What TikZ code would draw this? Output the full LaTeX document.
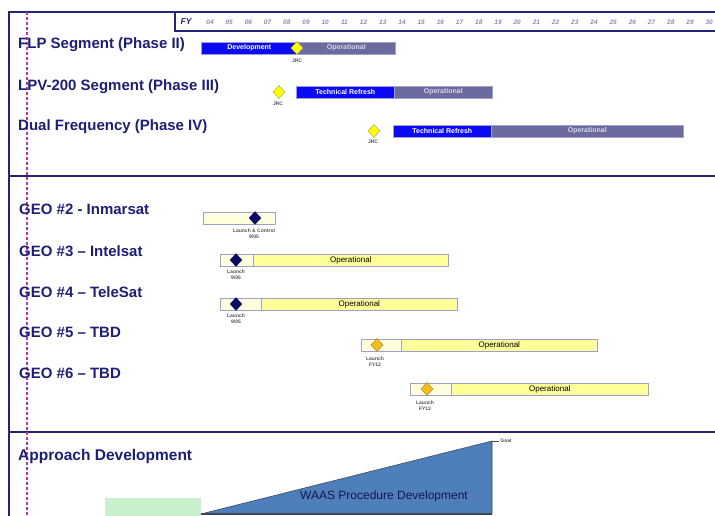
\documentclass[tikz,border=0pt]{standalone}
\usepackage{fontspec}
\setmainfont{Liberation Sans}
\usetikzlibrary{shapes.geometric}
\definecolor{navy}{HTML}{1E1E78}
\definecolor{framec}{HTML}{24247A}
\definecolor{plum}{HTML}{B03AA0}
\definecolor{devblue}{HTML}{0A0AF5}
\definecolor{opgray}{HTML}{6B6BA0}
\definecolor{optext}{HTML}{D6D6E6}
\definecolor{barline}{HTML}{A0A0CC}
\definecolor{paleyel}{HTML}{FFFFDD}
\definecolor{opyel}{HTML}{FFFF99}
\definecolor{jrcyel}{HTML}{FFFF00}
\definecolor{jrcline}{HTML}{B8B840}
\definecolor{geonavy}{HTML}{0A0A66}
\definecolor{geoorange}{HTML}{F7BE20}
\definecolor{geoorline}{HTML}{C08A10}
\definecolor{procblue}{HTML}{4F7FBA}
\definecolor{procline}{HTML}{404858}
\definecolor{procgreen}{HTML}{C8EFCE}
\definecolor{notegray}{HTML}{505050}
\definecolor{yeargray}{HTML}{8A8AB4}
\tikzset{
  framerule/.style={draw=framec, line width=1.8pt},
  rowlabel/.style={anchor=west, inner sep=0pt, text=navy,
    font=\bfseries\fontsize{15}{17}\selectfont},
  yearlabel/.style={inner sep=0pt, text=yeargray,
    font=\bfseries\itshape\fontsize{6.5}{7}\selectfont},
  barbase/.style={rectangle, anchor=west, inner sep=0pt, minimum height=12pt,
    draw=barline, line width=0.6pt},
  devbar/.style={barbase, fill=devblue, text=white,
    font=\bfseries\fontsize{7}{8}\selectfont},
  opbar/.style={barbase, fill=opgray, text=optext,
    font=\bfseries\fontsize{7}{8}\selectfont},
  prebar/.style={barbase, fill=paleyel},
  geobar/.style={barbase, fill=opyel, text=black,
    font=\fontsize{8}{9}\selectfont},
  milestone/.style={diamond, inner sep=0pt, minimum width=12pt, minimum height=13pt},
  jrcmark/.style={milestone, fill=jrcyel, draw=jrcline, line width=0.6pt},
  launchnavy/.style={milestone, fill=geonavy, draw=geonavy},
  launchorange/.style={milestone, fill=geoorange, draw=geoorline, line width=0.6pt},
  note/.style={anchor=north, inner sep=0pt, align=center, text=notegray,
    font=\bfseries\fontsize{5}{6}\selectfont},
}
\begin{document}
\begin{tikzpicture}[x=1pt,y=-1pt]
\useasboundingbox (0,0) rectangle (715,516);

% outer frame, section rules and fiscal-year header box
\draw[framerule] (715,12) -- (9,12) -- (9,516);
\draw[framerule] (175,12) -- (175,31) -- (715,31);
\draw[framerule] (9,176) -- (715,176);
\draw[framerule] (9,432) -- (715,432);

% today marker
\draw[plum, line width=1.6pt, dash pattern=on 3pt off 2pt] (27,12) -- (27,516);

% fiscal years
\node[yearlabel, text=navy, font=\bfseries\itshape\fontsize{8.5}{9}\selectfont] (fy) at (186,22) {FY};
\foreach \yr [count=\k from 0] in {04,05,06,07,08,09,10,11,12,13,14,15,16,17,18,19,20,21,22,23,24,25,26,27,28,29,30}
  \node[yearlabel] (yr\yr) at ({210+19.2*\k},22) {\yr};

% ---- WAAS phases ----
\node[rowlabel] (lflp) at (18,45) {FLP Segment (Phase II)};
\node[rowlabel] (llpv) at (18,87) {LPV-200 Segment (Phase III)};
\node[rowlabel] (ldf)  at (18,127) {Dual Frequency (Phase IV)};

\node[devbar, minimum width=96pt] (flpdev) at (201,48) {Development};
\node[opbar,  minimum width=98pt] (flpop)  at (297,48) {Operational};
\node[jrcmark] (flpjrc) at (297,48) {};
\node[note] (flpjrcn) at (297,59) {JRC};

\node[devbar, minimum width=98pt] (lpvtr) at (296,92) {Technical Refresh};
\node[opbar,  minimum width=98pt] (lpvop) at (394,92) {Operational};
\node[jrcmark] (lpvjrc) at (279,92) {};
\node[note] (lpvjrcn) at (278,102) {JRC};

\node[devbar, minimum width=98pt]  (dftr) at (393,131) {Technical Refresh};
\node[opbar,  minimum width=192pt] (dfop) at (491,131) {Operational};
\node[jrcmark] (dfjrc) at (374,131) {};
\node[note] (dfjrcn) at (373,140) {JRC};

% ---- geostationary satellites ----
\node[rowlabel] (lgeo2) at (19,209) {GEO \#2 - Inmarsat};
\node[rowlabel] (lgeo3) at (19,251) {GEO \#3 – Intelsat};
\node[rowlabel] (lgeo4) at (19,292) {GEO \#4 – TeleSat};
\node[rowlabel] (lgeo5) at (19,332) {GEO \#5 – TBD};
\node[rowlabel] (lgeo6) at (19,373) {GEO \#6 – TBD};

\node[prebar, minimum width=72pt] (geo2pre) at (203,218) {};
\node[launchnavy] (geo2l) at (255,218) {};
\node[note] (geo2n) at (254,229) {Launch \& Control\\9/05};

\node[prebar, minimum width=33pt]  (geo3pre) at (220,260) {};
\node[geobar, minimum width=195pt] (geo3op)  at (253,260) {Operational};
\node[launchnavy] (geo3l) at (236,260) {};
\node[note] (geo3n) at (236,270) {Launch\\9/05};

\node[prebar, minimum width=41pt]  (geo4pre) at (220,304) {};
\node[geobar, minimum width=196pt] (geo4op)  at (261,304) {Operational};
\node[launchnavy] (geo4l) at (236,304) {};
\node[note] (geo4n) at (236,314) {Launch\\9/05};

\node[prebar, minimum width=40pt]  (geo5pre) at (361,345) {};
\node[geobar, minimum width=196pt] (geo5op)  at (401,345) {Operational};
\node[launchorange] (geo5l) at (377,345) {};
\node[note] (geo5n) at (375,357) {Launch\\FY12};

\node[prebar, minimum width=41pt]  (geo6pre) at (410,389) {};
\node[geobar, minimum width=197pt] (geo6op)  at (451,389) {Operational};
\node[launchorange] (geo6l) at (427,389) {};
\node[note] (geo6n) at (425,401) {Launch\\FY13};

% ---- approach procedures ----
\node[rowlabel, font=\bfseries\fontsize{15.5}{17}\selectfont] (lappr) at (18,456) {Approach Development};
\fill[procgreen] (105,498) rectangle (201,516);
\coordinate (ramp0) at (201,514);
\coordinate (ramp1) at (492,441);
\coordinate (ramp2) at (492,514);
\fill[procblue] (ramp0) -- (ramp1) -- (ramp2) -- cycle;
\draw[procline, line width=0.6pt] (ramp0) -- (ramp1) -- (ramp2);
\draw[procline, line width=1.4pt] (ramp0) -- (ramp2);
\node[text=navy!70!black, inner sep=0pt, font=\fontsize{12}{14}\selectfont] (proc) at (384,496) {WAAS Procedure Development};
\draw[notegray, line width=0.8pt] (ramp1) -- ++(7,0) node[anchor=west, inner sep=1pt, text=notegray, font=\bfseries\fontsize{5}{6}\selectfont] (goal) {Goal};
\end{tikzpicture}
\end{document}
